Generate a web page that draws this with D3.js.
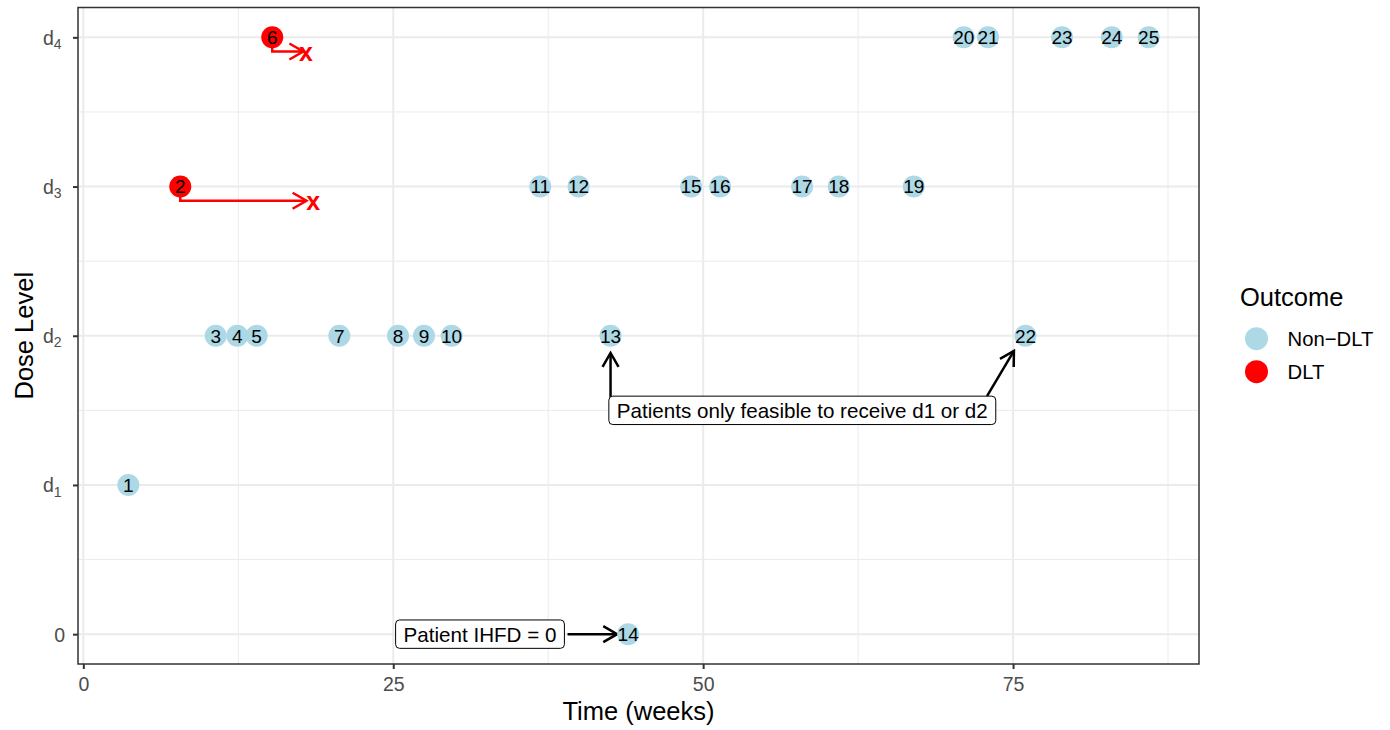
<!DOCTYPE html>
<html>
<head>
<meta charset="utf-8">
<script src="https://cdn.jsdelivr.net/npm/d3@7"></script>
<style>
  body { margin: 0; background: #fff; }
  svg { display: block; font-family: "Liberation Sans", Arial, sans-serif; }
</style>
</head>
<body>
<div id="chart"></div>
<script>
// patient data
const patientIds = [1, 2, 3, 4, 5, 6, 7, 8, 9, 10, 11, 12, 13, 14, 15, 16, 17, 18, 19, 20, 21, 22, 23, 24, 25];
const patientTimes = [3.63, 7.82, 10.68, 12.42, 13.98, 15.24, 20.65, 25.38, 27.48, 29.71, 36.86, 39.95, 42.53, 43.95,
  49.03, 51.37, 57.98, 60.94, 66.99, 71.02, 72.98, 76.0, 78.95, 82.96, 85.94];
const patientDose = [1, 3, 2, 2, 2, 4, 2, 2, 2, 2, 3, 3, 2, 0, 3, 3, 3, 3, 3, 4, 4, 2, 4, 4, 4];
const patientOutcome = ["Non-DLT", "DLT", "Non-DLT", "Non-DLT", "Non-DLT", "DLT", "Non-DLT", "Non-DLT", "Non-DLT",
  "Non-DLT", "Non-DLT", "Non-DLT", "Non-DLT", "Non-DLT", "Non-DLT", "Non-DLT", "Non-DLT", "Non-DLT", "Non-DLT",
  "Non-DLT", "Non-DLT", "Non-DLT", "Non-DLT", "Non-DLT", "Non-DLT"];

// DLT follow-up arrows
const dltPatients = [2, 6];
const dltArrowEnd = [18.0, 17.74];
const dltMarkX = [18.55, 17.96];

const outcomeLevels = ["Non-DLT", "DLT"];
const outcomeLabels = ["Non\u2212DLT", "DLT"];
const outcomeColors = ["#add8e6", "#ff0000"];

const xTicks = [0, 25, 50, 75];
const xMinor = [12.5, 37.5, 62.5, 87.5];
const yTicks = [0, 1, 2, 3, 4];
const yMinor = [0.5, 1.5, 2.5, 3.5];
const yTickLabels = ["0", "d|1", "d|2", "d|3", "d|4"];

// annotations
const noteText = ["Patients only feasible to receive d1 or d2", "Patient IHFD = 0"];
const noteX = [58.0, 32.0];
const noteY = [1.5, 0];
const noteArrows = [
  { x1: 42.53, y1: 1.59, x2: 42.53, y2: 1.885 },
  { x1: 72.9, y1: 1.595, x2: 75.07, y2: 1.898 },
  { x1: 39.06, y1: 0, x2: 43.06, y2: 0 }
];

const W = 1390, H = 730;
const panel = { left: 78, top: 7.5, right: 1199, bottom: 664 };
const FONT = "Liberation Sans, Arial, sans-serif";

const svg = d3.select("#chart").append("svg")
  .attr("width", W).attr("height", H);

const x = d3.scaleLinear().domain([-0.43, 90]).range([panel.left, panel.right]);
const y = d3.scaleLinear().domain([-0.2, 4.2]).range([panel.bottom, panel.top]);

// grid
const grid = svg.append("g");
grid.selectAll(".xmin").data(xMinor.filter(v => x(v) < panel.right)).join("line")
  .attr("x1", d => x(d)).attr("x2", d => x(d)).attr("y1", panel.top).attr("y2", panel.bottom)
  .attr("stroke", "#ebebeb").attr("stroke-width", 1);
grid.selectAll(".ymin").data(yMinor).join("line")
  .attr("y1", d => y(d)).attr("y2", d => y(d)).attr("x1", panel.left).attr("x2", panel.right)
  .attr("stroke", "#ebebeb").attr("stroke-width", 1);
grid.selectAll(".xmaj").data(xTicks).join("line")
  .attr("x1", d => x(d)).attr("x2", d => x(d)).attr("y1", panel.top).attr("y2", panel.bottom)
  .attr("stroke", "#ebebeb").attr("stroke-width", 2);
grid.selectAll(".ymaj").data(yTicks).join("line")
  .attr("y1", d => y(d)).attr("y2", d => y(d)).attr("x1", panel.left).attr("x2", panel.right)
  .attr("stroke", "#ebebeb").attr("stroke-width", 2);

// axes
const xAxis = svg.append("g")
  .attr("transform", `translate(0,${panel.bottom})`)
  .call(d3.axisBottom(x).tickValues(xTicks).tickSize(5).tickPadding(4).tickSizeOuter(0));
const yAxis = svg.append("g")
  .attr("transform", `translate(${panel.left},0)`)
  .call(d3.axisLeft(y).tickValues(yTicks).tickSize(5).tickPadding(5).tickFormat(() => ""));
[xAxis, yAxis].forEach(a => {
  a.select(".domain").remove();
  a.attr("font-size", null).attr("font-family", null);
  a.selectAll(".tick line").attr("stroke", "#333333").attr("stroke-width", 2);
});
xAxis.selectAll(".tick text")
  .attr("fill", "#4d4d4d").attr("dy", null).attr("y", 27)
  .style("font-size", "19.5px").style("font-family", FONT);

yAxis.selectAll(".tick").each(function (d, i) {
  const parts = yTickLabels[i].split("|");
  const t = d3.select(this).select("text")
    .attr("fill", "#4d4d4d").attr("dy", "0.36em").attr("x", parts[1] ? -22 : -13)
    .attr("text-anchor", "end")
    .style("font-size", "19.5px").style("font-family", FONT)
    .text(null);
  t.append("tspan").text(parts[0]);
  if (parts[1]) {
    t.attr("text-anchor", "start").attr("x", -35);
    t.append("tspan").attr("dy", "0.3em").style("font-size", "14px").text(parts[1]);
  }
});

// panel border
svg.append("rect")
  .attr("x", panel.left).attr("y", panel.top)
  .attr("width", panel.right - panel.left).attr("height", panel.bottom - panel.top)
  .attr("fill", "none").attr("stroke", "#333333").attr("stroke-width", 1.5);

// axis titles
svg.append("text")
  .attr("x", (panel.left + panel.right) / 2).attr("y", 720)
  .attr("text-anchor", "middle").style("font-size", "25.5px")
  .text("Time (weeks)");
svg.append("text")
  .attr("transform", `translate(33,${(panel.top + panel.bottom) / 2}) rotate(-90)`)
  .attr("text-anchor", "middle").style("font-size", "25.5px")
  .text("Dose Level");

function openHead(g, x1, y1, x2, y2, color, len) {
  const ang = Math.atan2(y2 - y1, x2 - x1);
  const a = Math.PI / 6;
  const p1 = [x2 - len * Math.cos(ang - a), y2 - len * Math.sin(ang - a)];
  const p2 = [x2 - len * Math.cos(ang + a), y2 - len * Math.sin(ang + a)];
  g.append("path")
    .attr("d", `M${p1[0]},${p1[1]}L${x2},${y2}L${p2[0]},${p2[1]}`)
    .attr("fill", "none").attr("stroke", color).attr("stroke-width", 2.5)
    .attr("stroke-linejoin", "miter");
}

// DLT arrows
const dltG = svg.append("g");
dltPatients.forEach((p, i) => {
  const idx = patientIds.indexOf(p);
  const x0 = x(patientTimes[idx]);
  const yLine = y(patientDose[idx] - 0.095);
  const y0 = y(patientDose[idx]);
  dltG.append("path")
    .attr("d", `M${x0},${y0}V${yLine}H${x(dltArrowEnd[i])}`)
    .attr("fill", "none").attr("stroke", "#ff0000").attr("stroke-width", 2.5);
  openHead(dltG, x0, yLine, x(dltArrowEnd[i]), yLine, "#ff0000", 16);
  dltG.append("text")
    .attr("x", x(dltMarkX[i])).attr("y", yLine + 1.5)
    .attr("text-anchor", "middle").attr("dy", "0.3em")
    .attr("fill", "#ff0000").style("font-size", "25px").style("font-weight", "bold")
    .text("x");
});

// annotation arrows
const noteG = svg.append("g");
noteArrows.forEach(a => {
  noteG.append("line")
    .attr("x1", x(a.x1)).attr("y1", y(a.y1)).attr("x2", x(a.x2)).attr("y2", y(a.y2))
    .attr("stroke", "#000").attr("stroke-width", 2.5);
  openHead(noteG, x(a.x1), y(a.y1), x(a.x2), y(a.y2), "#000", 16);
});

// points
const points = patientIds.map((id, i) => ({ id, t: patientTimes[i], d: patientDose[i], o: patientOutcome[i] }));
const ptG = svg.append("g");
ptG.selectAll("circle").data(points).join("circle")
  .attr("cx", d => x(d.t)).attr("cy", d => y(d.d)).attr("r", 11)
  .attr("fill", d => outcomeColors[outcomeLevels.indexOf(d.o)]);
ptG.selectAll("text").data(points).join("text")
  .attr("x", d => x(d.t)).attr("y", d => y(d.d)).attr("dy", "0.36em")
  .attr("text-anchor", "middle").style("font-size", "19px").attr("fill", "#000")
  .text(d => d.id);

// labels with boxes
noteText.forEach((txt, i) => {
  const g = svg.append("g");
  const rect = g.append("rect");
  const t = g.append("text")
    .attr("x", x(noteX[i])).attr("y", y(noteY[i])).attr("dy", "0.36em")
    .attr("text-anchor", "middle").style("font-size", "20.6px").text(txt);
  const bb = t.node().getBBox();
  rect.attr("x", bb.x - 8).attr("y", y(noteY[i]) - 14.2)
    .attr("width", bb.width + 16).attr("height", 28.4)
    .attr("rx", 4).attr("ry", 4)
    .attr("fill", "#fff").attr("stroke", "#000").attr("stroke-width", 1);
});

// legend
const leg = svg.append("g").attr("transform", "translate(1240,0)");
leg.append("text").attr("x", 0).attr("y", 306).style("font-size", "25.5px").text("Outcome");
outcomeLevels.forEach((o, i) => {
  const cy = 338.7 + i * 33;
  leg.append("circle").attr("cx", 16.5).attr("cy", cy).attr("r", 11.5).attr("fill", outcomeColors[i]);
  leg.append("text").attr("x", 47.5).attr("y", cy).attr("dy", "0.36em")
    .style("font-size", "20.3px").text(outcomeLabels[i]);
});
</script>
</body>
</html>
